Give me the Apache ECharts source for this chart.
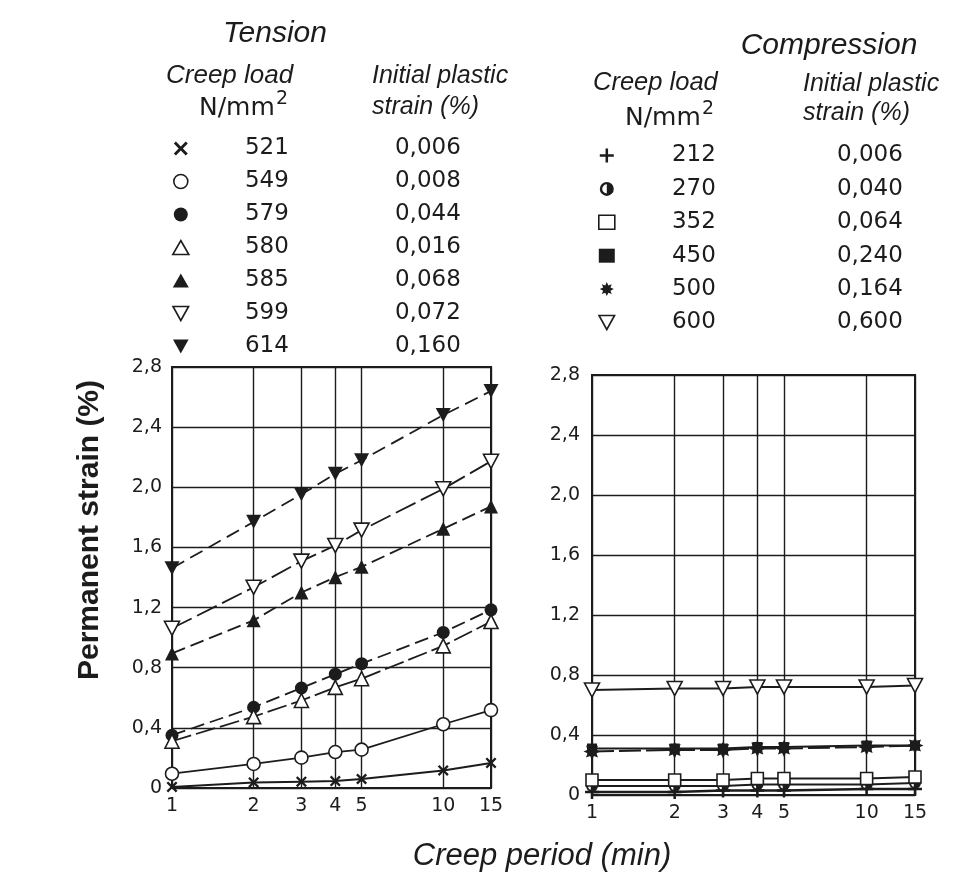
<!DOCTYPE html>
<html>
<head>
<meta charset="utf-8">
<title>Creep: permanent strain vs creep period</title>
<script src="https://cdn.jsdelivr.net/npm/echarts@6/dist/echarts.min.js"></script>
<style>
  html, body { margin: 0; padding: 0; background: #fff; }
  #chart { width: 976px; height: 877px; }
</style>
</head>
<body>
<div id="chart"></div>
<script>
// Creep period (min), shared by both panels
const creepMinutes = [1, 2, 3, 4, 5, 10, 15];
const xTickValues = [1, 2, 3, 4, 5, 10, 15];

// Tension: creep load (N/mm²) and initial plastic strain (%)
const tensionLoads = ['521', '549', '579', '580', '585', '599', '614'];
const tensionInitial = ['0,006', '0,008', '0,044', '0,016', '0,068', '0,072', '0,160'];

// Tension: permanent strain (%) at each creep period
const tension521 = [0.007, 0.037, 0.042, 0.046, 0.060, 0.117, 0.167];
const tension549 = [0.095, 0.160, 0.202, 0.239, 0.255, 0.424, 0.518];
const tension579 = [0.351, 0.537, 0.665, 0.757, 0.827, 1.035, 1.185];
const tension580 = [0.311, 0.475, 0.582, 0.669, 0.727, 0.945, 1.107];
const tension585 = [0.895, 1.115, 1.300, 1.402, 1.471, 1.724, 1.873];
const tension599 = [1.062, 1.335, 1.509, 1.613, 1.715, 1.990, 2.173];
const tension614 = [1.462, 1.770, 1.953, 2.090, 2.180, 2.480, 2.640];

// Compression: creep load (N/mm²) and initial plastic strain (%)
const compressionLoads = ['212', '270', '352', '450', '500', '600'];
const compressionInitial = ['0,006', '0,040', '0,064', '0,240', '0,164', '0,600'];

// Compression: permanent strain (%) at each creep period
const compression212 = [0.02, 0.02, 0.03, 0.03, 0.03, 0.04, 0.04];
const compression270 = [0.06, 0.06, 0.06, 0.07, 0.07, 0.07, 0.08];
const compression352 = [0.10, 0.10, 0.10, 0.11, 0.11, 0.11, 0.12];
const compression450 = [0.31, 0.31, 0.31, 0.32, 0.32, 0.33, 0.33];
const compression500 = [0.29, 0.30, 0.30, 0.31, 0.31, 0.32, 0.33];
const compression600 = [0.70, 0.71, 0.71, 0.72, 0.72, 0.72, 0.73];

const INK = '#1c1c1c';
const NUM_FONT = 'DejaVu Sans';

// marker shapes
const SYM = {
  cross: 'path://M0,1.5 L1.5,0 L5,3.5 L8.5,0 L10,1.5 L6.5,5 L10,8.5 L8.5,10 L5,6.5 L1.5,10 L0,8.5 L3.5,5 Z',
  plus: 'path://M4.1,0 H5.9 V4.1 H10 V5.9 H5.9 V10 H4.1 V5.9 H0 V4.1 H4.1 Z',
  star: 'path://M10,5 L7.6,6.1 L8.54,8.54 L6.1,7.6 L5,10 L3.9,7.6 L1.46,8.54 L2.4,6.1 L0,5 L2.4,3.9 L1.46,1.46 L3.9,2.4 L5,0 L6.1,2.4 L8.54,1.46 L7.6,3.9 Z',
  down: 'path://M0,0 L10,0 L5,9 Z',
  half: 'path://M10,0 A10,10 0 1,1 10,20 A10,10 0 1,1 10,0 Z M10,3.5 A6.5,6.5 0 1,0 10,16.5 A6.5,6.5 0 1,0 10,3.5 Z M10,3.5 A6.5,6.5 0 0,1 10,16.5 Z'
};

const filled = { color: INK, borderColor: INK, borderWidth: 0 };
const open = { color: '#ffffff', borderColor: INK, borderWidth: 1.6 };

function pairs(values) {
  return creepMinutes.map((m, i) => [m, values[i]]);
}

function makeSeries(name, values, axis, symbol, size, itemStyle, dash, width) {
  return {
    name: name,
    type: 'line',
    xAxisIndex: axis,
    yAxisIndex: axis,
    data: pairs(values),
    symbol: symbol,
    symbolSize: size,
    showSymbol: true,
    silent: true,
    animation: false,
    itemStyle: itemStyle,
    lineStyle: { color: INK, width: width || 1.8, type: dash || 'solid' },
    z: 3
  };
}

const series = [
  makeSeries('521', tension521, 0, SYM.cross, 11, filled, 'solid', 2),
  makeSeries('549', tension549, 0, 'circle', 13, open, 'solid', 1.8),
  makeSeries('579', tension579, 0, 'circle', 13, filled, [14, 6], 1.8),
  makeSeries('580', tension580, 0, 'triangle', 14, open, [20, 5], 1.8),
  makeSeries('585', tension585, 0, 'triangle', 14, filled, [14, 6], 1.8),
  makeSeries('599', tension599, 0, SYM.down, [15, 14], open, [22, 6], 1.8),
  makeSeries('614', tension614, 0, SYM.down, [15, 14], filled, [14, 7], 1.8),

  makeSeries('212', compression212, 1, SYM.plus, 14, filled, 'solid', 2.4),
  makeSeries('270', compression270, 1, SYM.half, 12, filled, 'solid', 2),
  makeSeries('352', compression352, 1, 'rect', 12, open, 'solid', 2),
  makeSeries('450', compression450, 1, 'rect', 10, filled, 'solid', 2),
  makeSeries('500', compression500, 1, SYM.star, 17, filled, [22, 5], 2),
  makeSeries('600', compression600, 1, SYM.down, [15, 14], open, 'solid', 1.8)
];

const legendIcons = {
  '521': [SYM.cross, filled], '549': ['circle', open], '579': ['circle', filled],
  '580': ['triangle', open], '585': ['triangle', filled], '599': [SYM.down, open],
  '614': [SYM.down, filled],
  '212': [SYM.plus, filled], '270': [SYM.half, filled], '352': ['rect', open],
  '450': ['rect', filled], '500': [SYM.star, filled], '600': [SYM.down, open]
};

function legendData(loads) {
  return loads.map(n => ({ name: n, icon: legendIcons[n][0], itemStyle: legendIcons[n][1] }));
}

function legendRich(loadWidth, strainWidth) {
  const base = { fontFamily: NUM_FONT, fontSize: 23, color: INK, lineHeight: 20 };
  return {
    l: Object.assign({ width: loadWidth, align: 'right' }, base),
    s: Object.assign({ width: strainWidth, align: 'right' }, base)
  };
}

function xAxis(gridIndex) {
  return {
    type: 'log',
    logBase: 10,
    gridIndex: gridIndex,
    min: 1,
    max: 15,
    axisLine: { show: false },
    axisTick: { show: false, customValues: xTickValues },
    axisLabel: {
      customValues: xTickValues,
      formatter: v => String(Math.round(v)),
      color: INK, fontFamily: NUM_FONT, fontSize: 19, margin: 9
    },
    splitLine: { show: true, lineStyle: { color: INK, width: 1.4 } }
  };
}

function yAxis(gridIndex, margin) {
  return {
    type: 'value',
    gridIndex: gridIndex,
    min: 0,
    max: 2.8,
    interval: 0.4,
    axisLine: { show: false },
    axisTick: { show: false },
    axisLabel: {
      formatter: v => (v === 0 ? '0' : v.toFixed(1).replace('.', ',')),
      color: INK, fontFamily: NUM_FONT, fontSize: 19, margin: margin
    },
    splitLine: { show: true, lineStyle: { color: INK, width: 1.4 } }
  };
}

function label(text, x, y, font, align) {
  return {
    type: 'text',
    silent: true,
    style: {
      text: text, x: x, y: y, font: font, fill: INK,
      align: align || 'left', textAlign: align || 'left',
      verticalAlign: 'middle', textVerticalAlign: 'middle'
    }
  };
}

const option = {
  backgroundColor: '#ffffff',
  animation: false,
  grid: [
    { left: 172, top: 367, width: 319, height: 421, show: true, borderColor: INK, borderWidth: 2, backgroundColor: 'transparent' },
    { left: 592, top: 375, width: 323, height: 420, show: true, borderColor: INK, borderWidth: 2, backgroundColor: 'transparent' }
  ],
  xAxis: [xAxis(0), xAxis(1)],
  yAxis: [yAxis(0, 10), yAxis(1, 12)],
  legend: [
    {
      data: legendData(tensionLoads),
      orient: 'vertical', left: 172, top: 137, padding: 0,
      itemWidth: 16, itemHeight: 14, itemGap: 10,
      selectedMode: false,
      formatter: name => '{l|' + name + '}{s|' + tensionInitial[tensionLoads.indexOf(name)] + '}',
      textStyle: { fontFamily: NUM_FONT, fontSize: 23, color: INK, rich: legendRich(95, 172) }
    },
    {
      data: legendData(compressionLoads),
      orient: 'vertical', left: 598, top: 144, padding: 0,
      itemWidth: 16, itemHeight: 14, itemGap: 10.4,
      selectedMode: false,
      formatter: name => '{l|' + name + '}{s|' + compressionInitial[compressionLoads.indexOf(name)] + '}',
      textStyle: { fontFamily: NUM_FONT, fontSize: 23, color: INK, rich: legendRich(96, 187) }
    }
  ],
  graphic: [
    label('Tension', 275, 34, 'italic 30px "Liberation Sans"', 'center'),
    label('Creep load', 166, 76, 'italic 26px "Liberation Sans"'),
    label('N/mm', 199, 108, '25px "DejaVu Sans"'),
    label('2', 276, 99, '19px "DejaVu Sans"'),
    label('Initial plastic', 372, 76, 'italic 25px "Liberation Sans"'),
    label('strain (%)', 372, 107, 'italic 25px "Liberation Sans"'),

    label('Compression', 829, 46, 'italic 30px "Liberation Sans"', 'center'),
    label('Creep load', 593, 83, 'italic 25.5px "Liberation Sans"'),
    label('N/mm', 625, 118, '25px "DejaVu Sans"'),
    label('2', 702, 109, '19px "DejaVu Sans"'),
    label('Initial plastic', 803, 84, 'italic 25px "Liberation Sans"'),
    label('strain (%)', 803, 113, 'italic 25px "Liberation Sans"'),

    {
      type: 'text', silent: true, x: 90, y: 530, rotation: Math.PI / 2,
      style: {
        text: 'Permanent strain (%)', x: 0, y: 0, font: 'bold 30px "Liberation Sans"', fill: INK,
        align: 'center', textAlign: 'center', verticalAlign: 'middle', textVerticalAlign: 'middle'
      }
    },
    label('Creep period (min)', 542, 856, 'italic 31px "Liberation Sans"', 'center')
  ],
  series: series
};

const chart = echarts.init(document.getElementById('chart'), null, { renderer: 'canvas' });
chart.setOption(option);
</script>
</body>
</html>
